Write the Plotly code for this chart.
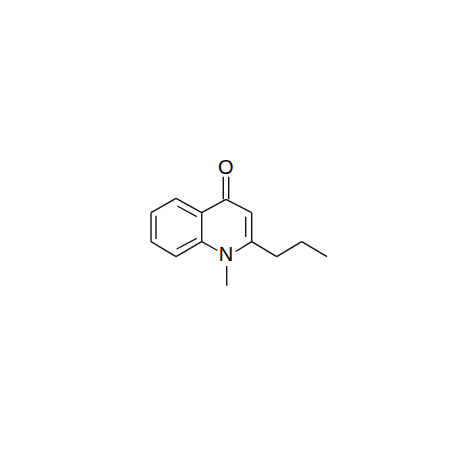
"""Script to draw the 1-methyl-2-propylquinolin-4-one structure"""
import plotly.graph_objects as go

# atom positions
ATOMS = {
    "C4": (226, 199.3), "C4a": (201.7, 212.7), "C5": (176, 198.3), "C6": (151, 212.7),
    "C7": (151, 241.7), "C8": (176, 256.7), "C8a": (201.7, 241.7), "C2": (251.7, 241.7),
    "C3": (251.7, 212.7), "Ca": (276.7, 256.7), "Cb": (301.7, 241.7), "Cc": (327, 256.7),
}

# skeleton bonds between atoms
BONDS = [
    ("C4", "C4a"), ("C4a", "C5"), ("C5", "C6"), ("C6", "C7"), ("C7", "C8"),
    ("C8", "C8a"), ("C8a", "C4a"), ("C4", "C3"), ("C3", "C2"), ("C2", "Ca"),
    ("Ca", "Cb"), ("Cb", "Cc"),
]

# bonds that stop short of a label, and the second strokes of double bonds
EXTRA_X = [
    [201.7, 217.5], [251.7, 235.7], [226.7, 226.7], [223.3, 223.3], [228.7, 228.7],
    [177.3, 196.7], [156, 156], [176.7, 196.7], [245.7, 245.7],
]
EXTRA_Y = [
    [241.7, 250.5], [241.7, 251.5], [266, 285.7], [176.7, 199.3], [176.7, 199.3],
    [206, 216.7], [215.7, 239], [249, 238.3], [216.7, 237],
]

LABEL_TEXT = ["O", "N"]
LABEL_X = [225.7, 226]
LABEL_Y = [169, 256]

INK = "#111111"

xs, ys = [], []
for a, b in BONDS:
    xs += [ATOMS[a][0], ATOMS[b][0], None]
    ys += [ATOMS[a][1], ATOMS[b][1], None]
for ex, ey in zip(EXTRA_X, EXTRA_Y):
    xs += ex + [None]
    ys += ey + [None]

fig = go.Figure()
fig.add_trace(go.Scatter(x=xs, y=ys, mode="lines", line=dict(color=INK, width=1.4), hoverinfo="skip"))
fig.add_trace(go.Scatter(
    x=LABEL_X, y=LABEL_Y, mode="text", text=LABEL_TEXT, textposition="middle center",
    textfont=dict(family="Liberation Sans", size=20, color="#000000"), hoverinfo="skip",
))

fig.update_xaxes(range=[0, 458], visible=False)
fig.update_yaxes(range=[458, 0], visible=False)
fig.update_layout(
    width=458, height=458, margin=dict(l=0, r=0, t=0, b=0),
    paper_bgcolor="white", plot_bgcolor="white", showlegend=False,
)

# the page's default body margin would push the figure off by 8px
fig.write_html(
    "out.html",
    config={"displayModeBar": False},
    post_script="document.body.style.margin = '0';",
)
